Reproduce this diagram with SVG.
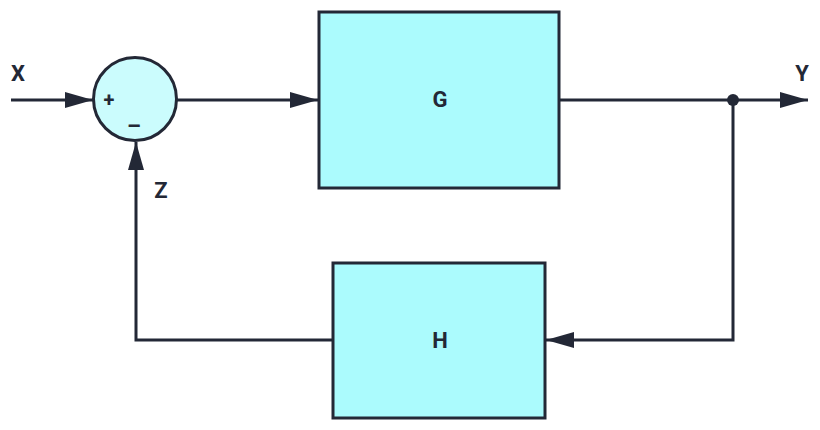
<svg xmlns="http://www.w3.org/2000/svg" width="820" height="430" viewBox="0 0 820 430">
<style>
.box{fill:#abfbfd;stroke:#232836;stroke-width:3}
.sum{fill:#cbfcfd;stroke:#232836;stroke-width:3}
.wire{fill:none;stroke:#232836;stroke-width:3}
.lbl{font-family:Roboto,"Liberation Sans",sans-serif;font-weight:bold;fill:#232836;text-anchor:middle}
</style>
<defs>
<marker id="ah" viewBox="0 0 28 16" refX="28" refY="8" markerWidth="28" markerHeight="16" markerUnits="userSpaceOnUse" orient="auto">
<path d="M0,0 L28,8 L0,16 Z" fill="#232836"/>
</marker>
</defs>
<rect width="820" height="430" fill="#ffffff"/>
<g id="connectors">
<line class="wire" x1="11" y1="100" x2="93" y2="100" marker-end="url(#ah)"/>
<line class="wire" x1="177" y1="100" x2="318" y2="100" marker-end="url(#ah)"/>
<line class="wire" x1="559" y1="100" x2="808" y2="100" marker-end="url(#ah)"/>
<polyline class="wire" points="733,100 733,340 546,340" marker-end="url(#ah)"/>
<polyline class="wire" points="333,340 136,340 136,142" marker-end="url(#ah)"/>
<circle cx="733" cy="100" r="6" fill="#232836"/>
</g>
<g id="sum">
<circle class="sum" cx="135" cy="99" r="41.5"/>
<text class="lbl" x="109" y="107" font-size="20">+</text>
<text class="lbl" x="134" y="134" font-size="22" font-weight="900">–</text>
</g>
<g id="G">
<rect class="box" x="319" y="12" width="240" height="176"/>
<text class="lbl" x="440" y="107" font-size="22">G</text>
</g>
<g id="H">
<rect class="box" x="333" y="263" width="212" height="155"/>
<text class="lbl" x="440" y="348" font-size="22">H</text>
</g>
<g id="labels">
<text class="lbl" x="18" y="81" font-size="22">X</text>
<text class="lbl" x="802" y="81" font-size="22">Y</text>
<text class="lbl" x="161" y="198" font-size="22">Z</text>
</g>
</svg>
